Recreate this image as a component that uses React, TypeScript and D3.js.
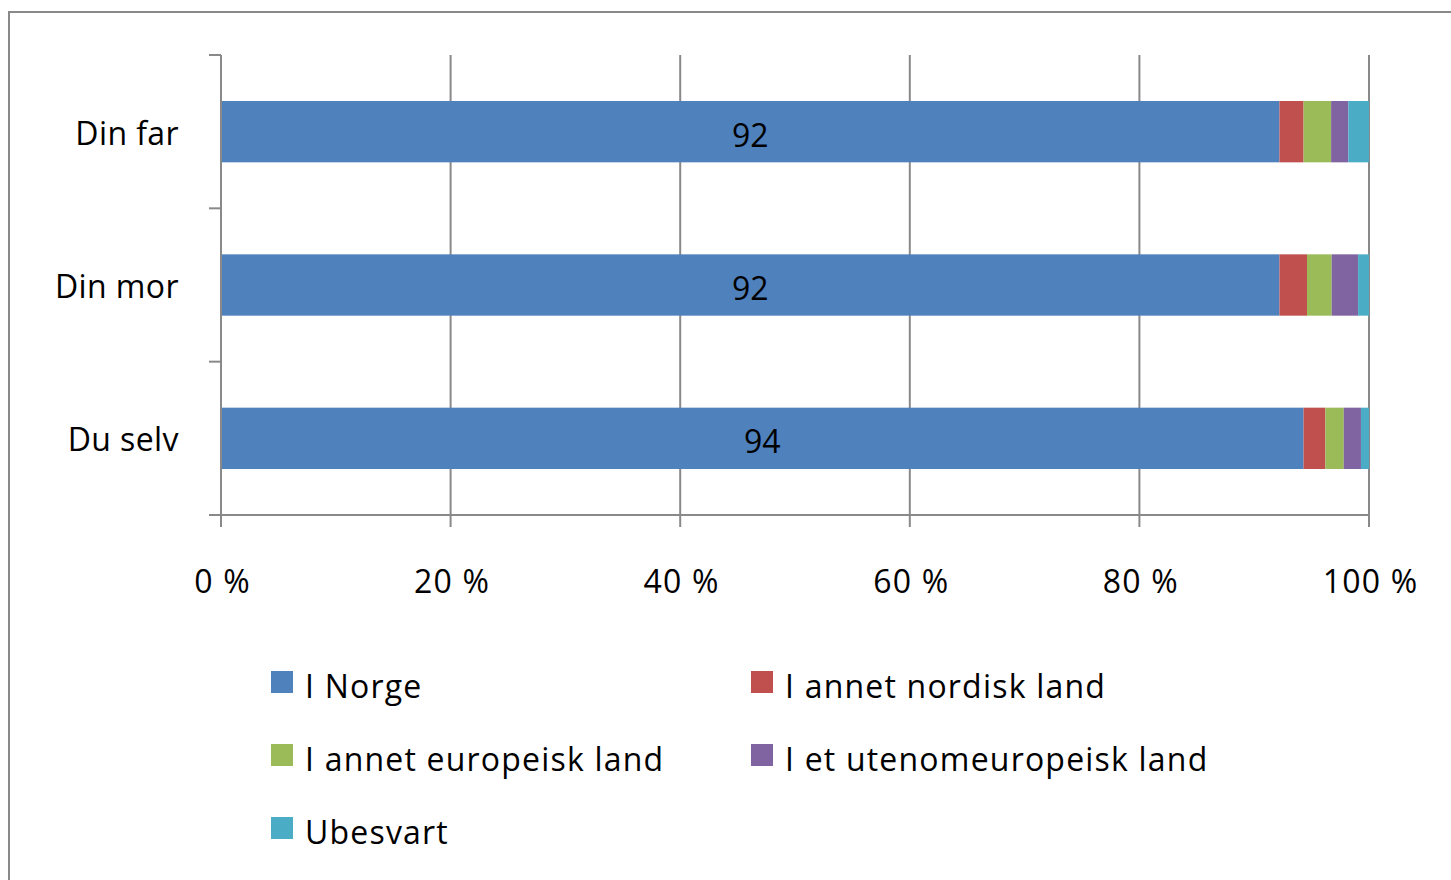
import React from "react";
import * as d3 from "d3";

const categories = ["Din far", "Din mor", "Du selv"];
const seriesNames = ["I Norge", "I annet nordisk land", "I annet europeisk land", "I et utenomeuropeisk land", "Ubesvart"];
const iNorge = [92.2, 92.2, 94.3];
const nordisk = [2.1, 2.4, 1.9];
const europeisk = [2.4, 2.15, 1.6];
const utenom = [1.5, 2.3, 1.5];
const ubesvart = [1.8, 0.95, 0.7];
const xTicks = [0, 20, 40, 60, 80, 100];
const colors = ["#4F81BD", "#C0504D", "#9BBB59", "#8064A2", "#4BACC6"];

const W = 1451;
const H = 880;
const FONT = "'Open Sans', sans-serif";

export default function App() {
  const x = d3.scaleLinear().domain([0, 100]).range([221, 1369]);
  const y = d3.scaleBand().domain(categories).range([55, 515]).paddingInner(0.6).paddingOuter(0.3);
  const rows = categories.map((c, i) => ({
    cat: c,
    "I Norge": iNorge[i],
    "I annet nordisk land": nordisk[i],
    "I annet europeisk land": europeisk[i],
    "I et utenomeuropeisk land": utenom[i],
    Ubesvart: ubesvart[i],
  }));
  const stack = d3.stack<any>().keys(seriesNames)(rows);
  const color = d3.scaleOrdinal<string>().domain(seriesNames).range(colors);
  const grid = "#898989";
  const step = y.step();
  const catBounds = [0, 1, 2, 3].map((k) => 55 + k * step);

  const legendPos = [
    { x: 271, y: 671 },
    { x: 751, y: 671 },
    { x: 271, y: 744 },
    { x: 751, y: 744 },
    { x: 271, y: 817 },
  ];

  return (
    <svg width={W} height={H} style={{ position: "absolute", left: 0, top: 0 }} fontFamily={FONT}>
      <rect x={0} y={0} width={W} height={H} fill="#fff" />
      <rect x={9} y={12} width={W + 20} height={H + 20} fill="none" stroke={grid} strokeWidth={2} />
      {xTicks.slice(1).map((t) => (
        <line key={t} x1={x(t)} x2={x(t)} y1={55} y2={515} stroke={grid} strokeWidth={2} />
      ))}
      {stack.map((s) =>
        s.map((d, i) => (
          <rect
            key={s.key + i}
            x={x(d[0])}
            y={y(categories[i])}
            width={x(d[1]) - x(d[0])}
            height={y.bandwidth()}
            fill={color(s.key)}
          />
        ))
      )}
      <line x1={221} x2={221} y1={55} y2={515} stroke={grid} strokeWidth={2} />
      <line x1={209} x2={1369} y1={515} y2={515} stroke={grid} strokeWidth={2} />
      {catBounds.map((b, k) => (
        <line key={k} x1={209} x2={221} y1={b} y2={b} stroke={grid} strokeWidth={2} />
      ))}
      {xTicks.map((t) => (
        <line key={t} x1={x(t)} x2={x(t)} y1={515} y2={527} stroke={grid} strokeWidth={2} />
      ))}
      {xTicks.map((t) => (
        <text key={t} x={x(t) + 1.5} y={593} textAnchor="middle" fontSize={32} letterSpacing={1.2} fill="#000">
          {t} %
        </text>
      ))}
      {categories.map((c) => (
        <text key={c} x={179} y={(y(c) as number) + y.bandwidth() / 2 + 13} textAnchor="end" fontSize={32} letterSpacing={0.4} fill="#000">
          {c}
        </text>
      ))}
      {stack[0].map((d, i) => (
        <text
          key={i}
          x={(x(d[0]) + x(d[1])) / 2}
          y={(y(categories[i]) as number) + y.bandwidth() / 2 + 15}
          textAnchor="middle"
          fontSize={32}
          fill="#000"
        >
          {Math.round(d[1] - d[0])}
        </text>
      ))}
      {seriesNames.map((n, i) => (
        <g key={n}>
          <rect x={legendPos[i].x} y={legendPos[i].y} width={22} height={22} fill={colors[i]} />
          <text x={legendPos[i].x + 34} y={legendPos[i].y + 27} fontSize={32} letterSpacing={1.2} fill="#000">
            {n}
          </text>
        </g>
      ))}
    </svg>
  );
}
